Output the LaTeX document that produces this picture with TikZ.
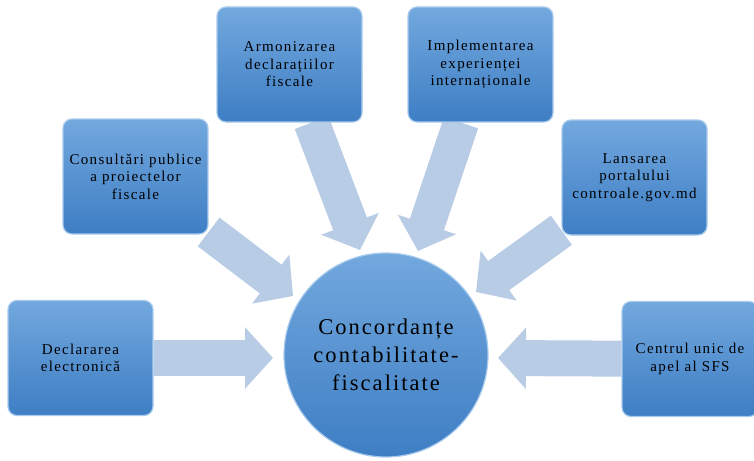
\documentclass[tikz,border=0pt]{standalone}
\usepackage{fontspec}
\setmainfont{Liberation Serif}[LetterSpace=9]
\usetikzlibrary{arrows.meta,backgrounds}

\definecolor{boxtop}{RGB}{114,168,222}
\definecolor{boxbot}{RGB}{62,126,196}
\definecolor{boxrim}{RGB}{168,202,236}
\definecolor{feedblue}{RGB}{184,204,230}

\tikzset{
    topic/.style={draw=boxrim,line width=1.2pt,rectangle,rounded corners=9pt,
        top color=boxtop,bottom color=boxbot,minimum width=145pt,minimum height=115pt,
        align=center,inner sep=2pt,font=\fontsize{15}{17.5}\selectfont},
    hub/.style={draw=boxrim,line width=1.2pt,circle,minimum size=204pt,inner sep=0pt,
        top color=boxtop,bottom color=boxbot,align=center,
        font=\fontsize{22.5}{28}\selectfont},
    feed/.style={draw=feedblue,line width=36pt,-{Triangle[length=28pt,width=60pt]}}
}

\begin{document}
\begin{tikzpicture}[x=1pt,y=-1pt]
    \useasboundingbox (0,0) rectangle (754,460);

    \node[hub] (hub) at (386,355) {Concordanțe\\contabilitate-\\fiscalitate};

    \node[topic] (decl) at (80.5,358) {Declararea\\electronică};
    \node[topic] (cons) at (135.5,176.5) {Consultări publice\\a proiectelor\\fiscale};
    \node[topic] (arm) at (289.5,64.5) {Armonizarea\\declarațiilor\\fiscale};
    \node[topic] (impl) at (480.5,64.5) {Implementarea\\experienței\\internaționale};
    \node[topic] (lans) at (634.5,177.5) {Lansarea\\portalului\\controale.gov.md};
    \node[topic,minimum width=136pt] (apel) at (690,359) {Centrul unic de\\apel al SFS};

    % arrow tips next to the circle
    \coordinate (t-decl) at (273,358);
    \coordinate (t-cons) at (293,296);
    \coordinate (t-arm) at (360,250);
    \coordinate (t-impl) at (418,251);
    \coordinate (t-lans) at (476,292);
    \coordinate (t-apel) at (498,358);

    \begin{scope}[on background layer]
        \draw[feed] (decl) -- (t-decl);
        \draw[feed] (cons) -- (t-cons);
        \draw[feed] (arm) -- (t-arm);
        \draw[feed] (impl) -- (t-impl);
        \draw[feed] (lans) -- (t-lans);
        \draw[feed] (apel) -- (t-apel);
    \end{scope}
\end{tikzpicture}
\end{document}
